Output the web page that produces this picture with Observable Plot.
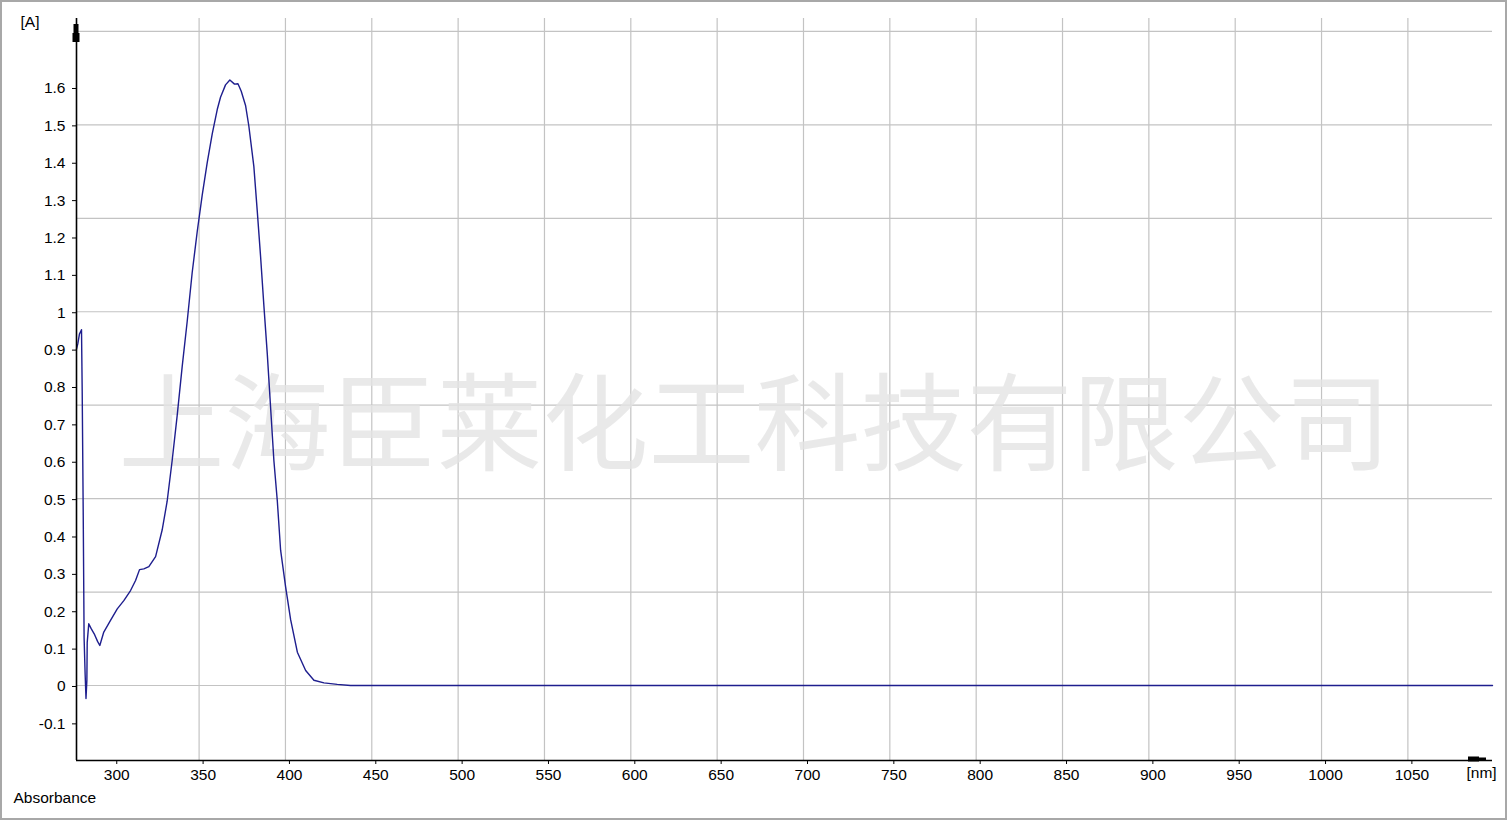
<!DOCTYPE html>
<html>
<head>
<meta charset="utf-8">
<script src="https://cdn.jsdelivr.net/npm/d3@7"></script>
<script src="https://cdn.jsdelivr.net/npm/@observablehq/plot@0.6"></script>
<style>
  html, body { margin: 0; padding: 0; background: #fff; }
</style>
</head>
<body>
<div id="chart"></div>
<script>
// Wavelength (nm) and absorbance readings
const wavelength = [279.0, 279.75, 280.7, 281.9, 282.3, 282.9, 283.4, 284.0, 284.5, 285.0, 285.2, 286.1, 287.5, 289.5, 291.2, 292.5, 294.8, 298.7, 302.6, 306.4, 310.3, 313.2, 315.5, 318.0, 320.9, 324.8, 328.6, 331.5, 334.4, 337.3, 340.2, 343.1, 346.0, 348.9, 351.8, 354.7, 357.6, 360.5, 362.4, 365.3, 367.8, 370.5, 372.5, 374.4, 376.9, 378.8, 381.7, 383.7, 385.6, 387.5, 389.5, 391.4, 393.3, 395.3, 397.2, 400.1, 403.0, 406.9, 411.7, 416.5, 422.3, 430.0, 437.7, 1099];
const absorbance = [0.90, 0.914, 0.94, 0.952, 0.787, 0.455, 0.128, 0.03, -0.035, 0.013, 0.115, 0.165, 0.152, 0.136, 0.118, 0.107, 0.143, 0.174, 0.205, 0.227, 0.254, 0.281, 0.31, 0.312, 0.318, 0.345, 0.416, 0.493, 0.602, 0.722, 0.853, 0.974, 1.105, 1.214, 1.312, 1.399, 1.476, 1.541, 1.574, 1.607, 1.620, 1.609, 1.610, 1.590, 1.552, 1.497, 1.389, 1.268, 1.148, 1.017, 0.886, 0.744, 0.602, 0.493, 0.362, 0.264, 0.176, 0.089, 0.040, 0.014, 0.007, 0.003, 0, 0];

const xTicks = [300, 350, 400, 450, 500, 550, 600, 650, 700, 750, 800, 850, 900, 950, 1000, 1050];
const xGrid = [350, 400, 450, 500, 550, 600, 650, 700, 750, 800, 850, 900, 950, 1000, 1050];
const yTicks = [-0.1, 0, 0.1, 0.2, 0.3, 0.4, 0.5, 0.6, 0.7, 0.8, 0.9, 1, 1.1, 1.2, 1.3, 1.4, 1.5, 1.6];
const yGrid = [0, 0.25, 0.5, 0.75, 1, 1.25, 1.5, 1.75];
const xDomain = [279, 1099];
const yDomain = [-0.2007, 1.7846];
const yUnit = "[A]";
const xUnit = "[nm]";
const seriesName = "Absorbance";
const watermark = "上海臣莱化工科技有限公司";

(function () {
  const data = wavelength.map((w, i) => ({nm: w, A: absorbance[i]}));
  const fmtY = d => String(+d.toFixed(1));
  const gridColor = "#c3c3c3";

  const chart = Plot.plot({
    width: 1509,
    height: 822,
    marginLeft: 76,
    marginRight: 17,
    marginTop: 18,
    marginBottom: 62,
    style: {background: "white", fontFamily: "'Liberation Sans', Arial, sans-serif", fontSize: "15.5px", color: "#000"},
    x: {domain: xDomain, axis: null},
    y: {domain: yDomain, axis: null},
    marks: [
      Plot.gridX(xGrid, {stroke: gridColor, strokeOpacity: 1, strokeWidth: 1.2}),
      Plot.gridY(yGrid, {stroke: gridColor, strokeOpacity: 1, strokeWidth: 1.2}),
      Plot.text([watermark], {frameAnchor: "middle", dx: -30, dy: 39, fontSize: 106, fill: "#e3e3e3", fillOpacity: 0.8,
        fontFamily: "'Noto Sans CJK SC', sans-serif", fontWeight: 400}),
      Plot.line(data, {x: "nm", y: "A", stroke: "#1e1e8e", strokeWidth: 1.4, curve: "linear"}),
      Plot.ruleX([xDomain[0]], {stroke: "#000", strokeWidth: 1.6}),
      Plot.ruleY([yDomain[0]], {stroke: "#000", strokeWidth: 1.6}),
      Plot.axisX(xTicks, {tickSize: 4, tickPadding: 4, dx: 4, tickFormat: d => String(d), label: null, stroke: "#000", fill: "#000"}),
      Plot.axisY(yTicks, {tickSize: 4, tickPadding: 7, dy: 1, tickFormat: fmtY, label: null, stroke: "#000", fill: "#000"}),
      Plot.text([yUnit], {frameAnchor: "top-left", dx: -56, dy: 8, textAnchor: "start", lineAnchor: "bottom", fill: "#000"}),
      Plot.text([xUnit], {frameAnchor: "bottom-right", dx: -26, dy: 17, textAnchor: "start", lineAnchor: "bottom", fill: "#000"}),
      Plot.text([seriesName], {frameAnchor: "bottom-left", dx: -63, dy: 42, textAnchor: "start", lineAnchor: "bottom", fill: "#000"})
    ]
  });

  document.getElementById("chart").appendChild(chart);

  // decorations: axis arrow blocks and outer frame
  const svg = d3.select(chart);
  const sx = chart.scale("x"), sy = chart.scale("y");
  const xLeft = sx.range[0], xRight = sx.range[1];
  const yBottom = sy.range[0], yTop = sy.range[1];
  svg.append("rect").attr("x", xLeft - 2.5).attr("y", yTop + 6).attr("width", 5).attr("height", 9).attr("fill", "#000");
  svg.append("rect").attr("x", xLeft - 3.5).attr("y", yTop + 15).attr("width", 7).attr("height", 9).attr("fill", "#000");
  svg.append("rect").attr("x", xRight - 24).attr("y", yBottom - 3.5).attr("width", 11).attr("height", 5).attr("fill", "#000");
  svg.append("rect").attr("x", xRight - 14).attr("y", yBottom - 2.5).attr("width", 8).attr("height", 3.5).attr("fill", "#000");
  svg.append("rect").attr("x", 1).attr("y", 1).attr("width", 1505).attr("height", 818)
    .attr("fill", "none").attr("stroke", "#a8a8a8").attr("stroke-width", 2);
})();
</script>
</body>
</html>
